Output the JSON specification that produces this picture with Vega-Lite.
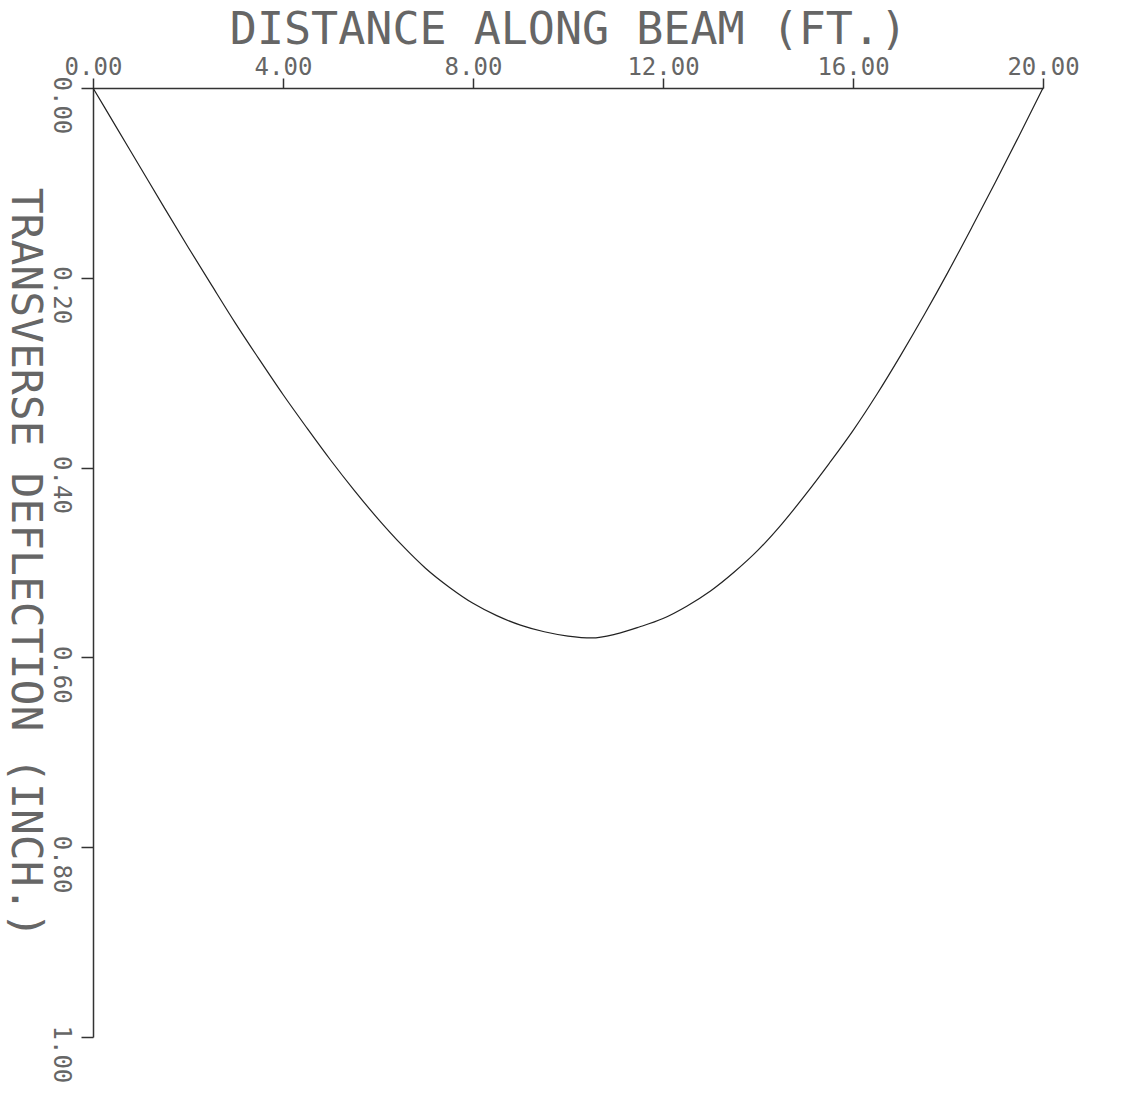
{
  "$schema": "https://vega.github.io/schema/vega-lite/v6.json",
  "width": 950,
  "height": 949,
  "autosize": {"type": "none"},
  "padding": {"left": 93, "top": 88, "right": 86, "bottom": 58},
  "background": "white",
  "config": {
    "view": {"stroke": null},
    "font": "DejaVu Sans Mono"
  },
  "data": {
    "values": [
      {"x": 0, "y": 0},
      {"x": 0.5, "y": 0.042},
      {"x": 1, "y": 0.084},
      {"x": 1.5, "y": 0.126},
      {"x": 2, "y": 0.1675},
      {"x": 2.5, "y": 0.208},
      {"x": 3, "y": 0.248},
      {"x": 3.5, "y": 0.286},
      {"x": 4, "y": 0.323},
      {"x": 4.5, "y": 0.358},
      {"x": 5, "y": 0.392},
      {"x": 5.5, "y": 0.424},
      {"x": 6, "y": 0.454},
      {"x": 6.5, "y": 0.4815},
      {"x": 7, "y": 0.506},
      {"x": 7.5, "y": 0.526},
      {"x": 8, "y": 0.543},
      {"x": 8.5, "y": 0.556},
      {"x": 9, "y": 0.566},
      {"x": 9.5, "y": 0.573},
      {"x": 10, "y": 0.5775},
      {"x": 10.5, "y": 0.5795},
      {"x": 11, "y": 0.5755},
      {"x": 11.5, "y": 0.568},
      {"x": 12, "y": 0.559},
      {"x": 12.5, "y": 0.546},
      {"x": 13, "y": 0.53},
      {"x": 13.5, "y": 0.51},
      {"x": 14, "y": 0.487},
      {"x": 14.5, "y": 0.4595},
      {"x": 15, "y": 0.4285},
      {"x": 15.5, "y": 0.3955},
      {"x": 16, "y": 0.361},
      {"x": 16.5, "y": 0.323},
      {"x": 17, "y": 0.282},
      {"x": 17.5, "y": 0.239},
      {"x": 18, "y": 0.194},
      {"x": 18.5, "y": 0.147},
      {"x": 19, "y": 0.099},
      {"x": 19.5, "y": 0.05},
      {"x": 20, "y": 0}
    ]
  },
  "mark": {"type": "line", "interpolate": "monotone", "color": "#222", "strokeWidth": 1.2},
  "encoding": {
    "x": {
      "field": "x",
      "type": "quantitative",
      "scale": {"domain": [0, 20], "nice": false, "zero": false},
      "axis": {
        "orient": "top",
        "values": [0, 4, 8, 12, 16, 20],
        "format": ".2f",
        "title": "DISTANCE ALONG BEAM (FT.)",
        "titleFont": "DejaVu Sans Mono",
        "titleFontSize": 45,
        "titleFontWeight": "normal",
        "titleColor": "#666",
        "titlePadding": 3,
        "labelFont": "DejaVu Sans Mono",
        "labelFontSize": 24,
        "labelColor": "#666",
        "labelPadding": -1,
        "labelFlush": false,
        "labelOverlap": false,
        "tickSize": 10,
        "tickColor": "#333",
        "tickWidth": 1.5,
        "domainColor": "#333",
        "domainWidth": 1.5,
        "grid": false
      }
    },
    "y": {
      "field": "y",
      "type": "quantitative",
      "scale": {"domain": [0, 1], "reverse": true, "nice": false, "zero": false},
      "axis": {
        "orient": "left",
        "values": [0, 0.2, 0.4, 0.6, 0.8, 1.0],
        "format": ".2f",
        "title": "TRANSVERSE DEFLECTION (INCH.)",
        "titleFont": "DejaVu Sans Mono",
        "titleFontSize": 43,
        "titleFontWeight": "normal",
        "titleColor": "#666",
        "titleAngle": 90,
        "titleBaseline": "top",
        "titlePadding": 3,
        "labelFont": "DejaVu Sans Mono",
        "labelFontSize": 24,
        "labelColor": "#666",
        "labelAngle": 90,
        "labelAlign": "left",
        "labelBaseline": "middle",
        "labelOffset": -12,
        "labelPadding": 21,
        "labelFlush": false,
        "labelOverlap": false,
        "tickSize": 12,
        "tickColor": "#333",
        "tickWidth": 1.5,
        "domainColor": "#333",
        "domainWidth": 1.5,
        "grid": false
      }
    }
  }
}
